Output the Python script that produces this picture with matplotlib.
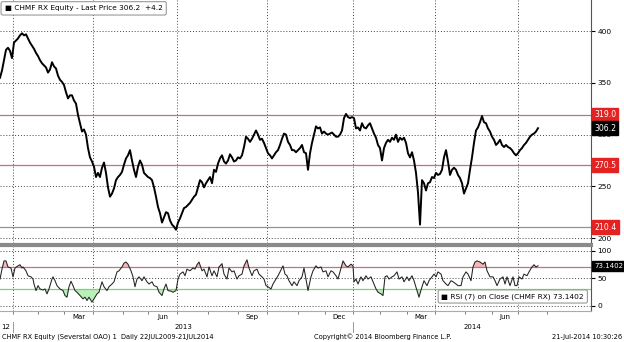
"""
CHMF RX Equity (Severstal) daily price with 7-day RSI, Bloomberg style.
"""

import matplotlib
matplotlib.use('Agg')
import matplotlib.pyplot as plt
import matplotlib.transforms as mtransforms
import numpy as np

# Close prices, one per bar (about every 2nd trading day), Dec 2012 -> 21 Jul 2014
close = [
    355, 362, 372, 382, 384, 381, 374, 389, 391, 393, 396, 398, 396, 397, 393, 389,
    386, 383, 379, 376, 372, 369, 367, 365, 360, 363, 370, 366, 364, 357, 353, 351,
    348, 341, 335, 338, 338, 333, 330, 319, 311, 303, 305, 300, 287, 278, 274, 269,
    259, 263, 259, 268, 273, 263, 249, 240, 243, 248, 256, 259, 261, 264, 271, 277,
    280, 285, 275, 266, 259, 269, 275, 271, 263, 261, 259, 258, 256, 249, 240, 230,
    224, 215, 220, 225, 224, 217, 213, 211, 208, 215, 219, 224, 229, 230, 232, 234,
    237, 240, 242, 249, 256, 254, 249, 253, 256, 259, 253, 266, 264, 272, 277, 280,
    274, 272, 275, 281, 278, 274, 275, 278, 277, 280, 288, 298, 296, 293, 296, 300,
    304, 300, 295, 296, 292, 287, 282, 280, 277, 280, 283, 285, 290, 296, 301, 300,
    293, 290, 285, 285, 283, 285, 287, 290, 283, 282, 266, 282, 292, 300, 308, 306,
    307, 301, 303, 301, 300, 301, 302, 300, 298, 298, 300, 304, 316, 320, 317, 316,
    317, 316, 306, 307, 304, 311, 307, 306, 309, 311, 306, 301, 297, 290, 287, 275,
    287, 292, 295, 293, 297, 295, 300, 293, 297, 295, 297, 292, 282, 278, 283, 275,
    263, 244, 213, 256, 253, 246, 253, 254, 259, 258, 263, 261, 262, 266, 278, 285,
    274, 261, 266, 268, 266, 261, 258, 253, 243, 248, 253, 266, 278, 292, 304, 307,
    312, 318, 312, 311, 306, 303, 298, 295, 290, 292, 295, 290, 288, 290, 288, 287,
    285, 282, 280, 282, 285, 287, 290, 292, 295, 298, 300, 301, 303, 306.2,
]

# RSI(7) readings: bar number and value
rsi_bar = [
    0, 1, 2, 3, 4, 5.5, 6.5, 7.5, 9, 10, 11, 11.5, 13, 14, 15.5, 16.5, 17, 18, 19, 20,
    21.5, 22.5, 23.5, 24.5, 26, 26.5, 27.5, 28.5, 30, 31.5, 32.5, 33.5, 34.5, 35.5,
    36.5, 37.5, 38.5, 40, 41.5, 42.5, 43.5, 44.5, 46, 47, 48.5, 49.5, 51, 52, 53.5,
    54.5, 56, 57, 58.5, 59.5, 61, 62, 63, 64, 65.5, 66.5, 67.5, 68.5, 69.5, 71, 72,
    73.5, 74.5, 76, 77, 78.5, 79.5, 81, 82, 83, 84, 85.5, 86.5, 88, 89, 90, 91.5,
    92.5, 93.5, 95, 96.5, 97.5, 98.5, 99.5, 101, 102, 103.5, 104.5, 106, 107, 108.5,
    109.5, 111, 112, 113.5, 114.5, 116, 117, 118.5, 119.5, 121, 122, 123.5, 124.5,
    126, 127, 128.5, 129.5, 131, 132, 133, 134, 135.5, 136.5, 138, 139, 140, 141.5,
    142.5, 143.5, 144.5, 146, 147, 148.5, 149.5, 151, 152, 153, 154, 155.5, 156.5,
    158, 159, 160.5, 161.5, 163, 164, 165.5, 166.5, 168, 169, 170.5, 171.5, 173, 174,
    175.5, 176.5, 177, 178, 179, 180.5, 181.5, 183, 184, 185.5, 186.5, 188, 189,
    190.5, 191.5, 192.5, 193.5, 194.5, 196, 197, 198.5, 199.5, 201, 202, 203.5,
    204.5, 206, 207, 208.5, 209.5, 211, 212, 213.5, 214.5, 216, 217, 218, 219, 220.5,
    221.5, 223, 224, 225.5, 226.5, 228, 229, 230.5, 231.5, 233, 234, 235.5, 236.5,
    237.5, 238.5, 240, 241.5, 242.5, 243.5, 245, 246.5, 247.5, 248.5, 250, 251.5,
    252.5, 253.5, 255, 256.5, 257.5, 258.5, 259.5, 261, 262, 263.5, 264.5, 266, 267,
    268, 269,
]
rsi = [
    49, 67, 82, 82, 71, 69, 53, 69, 73, 75, 69, 71, 64, 55, 53, 49, 40, 28, 37, 31,
    29, 31, 22, 31, 49, 53, 46, 37, 31, 28, 19, 16, 35, 45,
    37, 28, 25, 19, 13, 16, 10, 16, 7, 13, 22, 25, 44, 35, 28,
    35, 40, 44, 62, 64, 71, 78, 80, 76, 64, 53, 35, 49, 53, 46, 53,
    44, 40, 44, 37, 35, 25, 19, 31, 40, 28, 27, 25, 28, 49, 58, 62,
    55, 67, 64, 69, 67, 75, 80, 64, 67, 53, 71, 55, 64, 53,
    71, 77, 58, 49, 69, 62, 64, 49, 55, 58, 73, 84, 69,
    55, 64, 67, 58, 53, 49, 37, 35, 31, 40, 49, 55, 62, 73,
    58, 55, 46, 37, 44, 37, 46, 53, 69, 49, 28, 53, 64,
    73, 69, 71, 62, 64, 53, 64, 62, 55, 49, 69, 82, 73, 71,
    76, 73, 44, 49, 40, 53, 46, 55, 49, 53, 44, 31, 25,
    22, 19, 53, 55, 49, 53, 55, 62, 49, 53, 44, 53,
    46, 55, 46, 28, 16, 35, 46, 37, 46, 53, 58, 53, 62, 58,
    46, 40, 37, 46, 44, 40, 37, 37, 53, 62, 58, 46, 71,
    80, 82, 80, 76, 80, 64, 53, 53, 46, 37, 49, 53,
    40, 53, 37, 53, 37, 37, 53, 49, 58, 55, 62, 71, 75,
    71, 73.1402,
]

# first bar of each month (trading-day axis), Jan 2013 .. Aug 2014
month_start = [6.5, 19, 32, 46.5, 61.5, 74, 88.5, 104, 119, 133.5, 149, 162.5,
               176.5, 190, 203.5, 217.5, 232.5, 246, 259, 273.5]
month_names = ['Jan', 'Feb', 'Mar', 'Apr', 'May', 'Jun', 'Jul', 'Aug', 'Sep', 'Oct',
               'Nov', 'Dec', 'Jan', 'Feb', 'Mar', 'Apr', 'May', 'Jun', 'Jul', 'Aug']

levels = [319.0, 270.5, 210.4]
last_price = 306.2
last_change = 4.2

RED_LINE = '#c8707a'
GRAY_LINE = '#a08c96'
TAG_RED = '#e32222'
FS = 5.0
TAG_FS = 5.6

plt.rcParams['font.family'] = ['DejaVu Sans']

fig = plt.figure(figsize=(6.24, 3.42), dpi=100)
ax1 = fig.add_axes([0, 1 - 243 / 342, 591 / 624, 243 / 342])
ax2 = fig.add_axes([0, 1 - 311 / 342, 591 / 624, 66 / 342], sharex=ax1)

x = np.arange(len(close))
x_max = 295.5

# ---- price panel ----
ax1.plot(x, close, color='black', linewidth=1.4, zorder=3)
for lvl in levels:
    ax1.axhline(lvl, color=GRAY_LINE if lvl < 250 else RED_LINE, linewidth=0.9, zorder=2)
ax1.set_ylim(195.2, 430.2)
ax1.set_xlim(0, x_max)
ax1.set_yticks([200, 250, 300, 350, 400])
ax1.yaxis.tick_right()
ax1.tick_params(axis='y', direction='out', length=3, width=0.8, labelsize=FS + 0.4, pad=1.5)
ax1.tick_params(axis='x', length=0, labelbottom=False)
ax1.grid(True, axis='y', linestyle=(0, (1, 2)), color='#444444', linewidth=0.7)
for s in ['top', 'left', 'bottom']:
    ax1.spines[s].set_visible(False)
ax1.spines['right'].set_color('#555555')

for lvl in levels:
    ax1.annotate(f'{lvl:.1f}', xy=(1.005, lvl), xycoords=('axes fraction', 'data'),
                 ha='left', va='center', fontsize=TAG_FS, color='white', zorder=10,
                 annotation_clip=False,
                 bbox=dict(boxstyle='square,pad=0.3', fc=TAG_RED, ec=TAG_RED))
ax1.annotate(f'{last_price:.1f}', xy=(1.005, last_price), xycoords=('axes fraction', 'data'),
             ha='left', va='center', fontsize=TAG_FS, color='white', zorder=10,
             annotation_clip=False,
             bbox=dict(boxstyle='square,pad=0.3', fc='black', ec='black'))

ax1.text(0.008, 0.978, f'\u25A0 CHMF RX Equity - Last Price {last_price:.1f}  +{last_change:.1f}',
         transform=ax1.transAxes, ha='left', va='top', fontsize=FS + 0.3, zorder=11,
         bbox=dict(boxstyle='round,pad=0.5,rounding_size=0.25', fc='white', ec='#999999', lw=0.8))

# ---- RSI panel ----
rb = np.array(rsi_bar)
rv = np.array(rsi)
ax2.plot(rb, rv, color='#222222', linewidth=0.75, zorder=3)
ax2.fill_between(rb, rv, 70, where=rv > 70, interpolate=True, color='#f4b8b8', lw=0, zorder=2)
ax2.fill_between(rb, rv, 30, where=rv < 30, interpolate=True, color='#b8f0b8', lw=0, zorder=2)
ax2.axhline(70, color=RED_LINE, linewidth=0.9, zorder=2)
ax2.axhline(30, color='#7cd27c', linewidth=0.9, zorder=2)
ax2.set_ylim(-9.1, 110.9)
ax2.set_yticks([0, 50, 100])
ax2.yaxis.tick_right()
ax2.tick_params(axis='y', direction='out', length=3, width=0.8, labelsize=FS + 0.4, pad=1.5)
ax2.grid(True, axis='y', linestyle=(0, (1, 2)), color='#444444', linewidth=0.7)
ax2.spines['left'].set_visible(False)
ax2.spines['top'].set_color('#8a8a8a')
ax2.spines['top'].set_linewidth(3.0)
ax2.spines['right'].set_color('#555555')
ax2.spines['bottom'].set_color('#aaaaaa')

ax2.annotate(f'{rsi[-1]:.4f}', xy=(1.005, rsi[-1]), xycoords=('axes fraction', 'data'),
             ha='left', va='center', fontsize=TAG_FS - 0.6, color='white', zorder=10,
             annotation_clip=False,
             bbox=dict(boxstyle='square,pad=0.25', fc='black', ec='black'))
ax2.text(0.747, 0.22, f'\u25A0 RSI (7) on Close (CHMF RX) {rsi[-1]:.4f}',
         transform=ax2.transAxes, ha='left', va='center', fontsize=FS + 0.3, zorder=11,
         bbox=dict(boxstyle='round,pad=0.45,rounding_size=0.25', fc='white', ec='#999999', lw=0.8))

# quarterly dotted verticals in both panels
for ax in (ax1, ax2):
    for i, m in enumerate(month_start):
        if month_names[i] in ('Jan', 'Apr', 'Jul', 'Oct'):
            ax.axvline(m, linestyle=(0, (1, 2)), color='#444444', linewidth=0.7, zorder=1)

# month ticks and labels
ax2.set_xticks(month_start)
ax2.tick_params(axis='x', direction='out', length=2.5, width=0.6, color='#666666', labelbottom=False)
trans = mtransforms.blended_transform_factory(ax2.transData, fig.transFigure)
for i in range(len(month_start) - 1):
    if month_names[i] in ('Mar', 'Jun', 'Sep', 'Dec'):
        mid = (month_start[i] + month_start[i + 1]) / 2
        fig.text(mid, 1 - 317 / 342, month_names[i], transform=trans,
                 ha='center', va='center', fontsize=FS)

# year row
fig.text(0.002, 1 - 327 / 342, '12', ha='left', va='center', fontsize=FS)
fig.text((month_start[0] + month_start[12]) / 2, 1 - 327 / 342, '2013', transform=trans,
         ha='center', va='center', fontsize=FS)
fig.text((month_start[12] + x_max) / 2, 1 - 327 / 342, '2014', transform=trans,
         ha='center', va='center', fontsize=FS)
for m in (month_start[0], month_start[12]):
    ax2.plot([m, m], [1 - 322 / 342, 1 - 332 / 342], transform=trans, color='#888888',
             linewidth=0.6, clip_on=False)

# footer
fig.text(0.003, 1 - 337 / 342, 'CHMF RX Equity (Severstal OAO) 1  Daily 22JUL2009-21JUL2014',
         ha='left', va='center', fontsize=FS - 0.2)
fig.text(314 / 624, 1 - 337 / 342, 'Copyright\u00a9 2014 Bloomberg Finance L.P.',
         ha='left', va='center', fontsize=FS - 0.2)
fig.text(0.997, 1 - 337 / 342, '21-Jul-2014 10:30:26',
         ha='right', va='center', fontsize=FS - 0.2)

fig.savefig('out.png', dpi=100)
